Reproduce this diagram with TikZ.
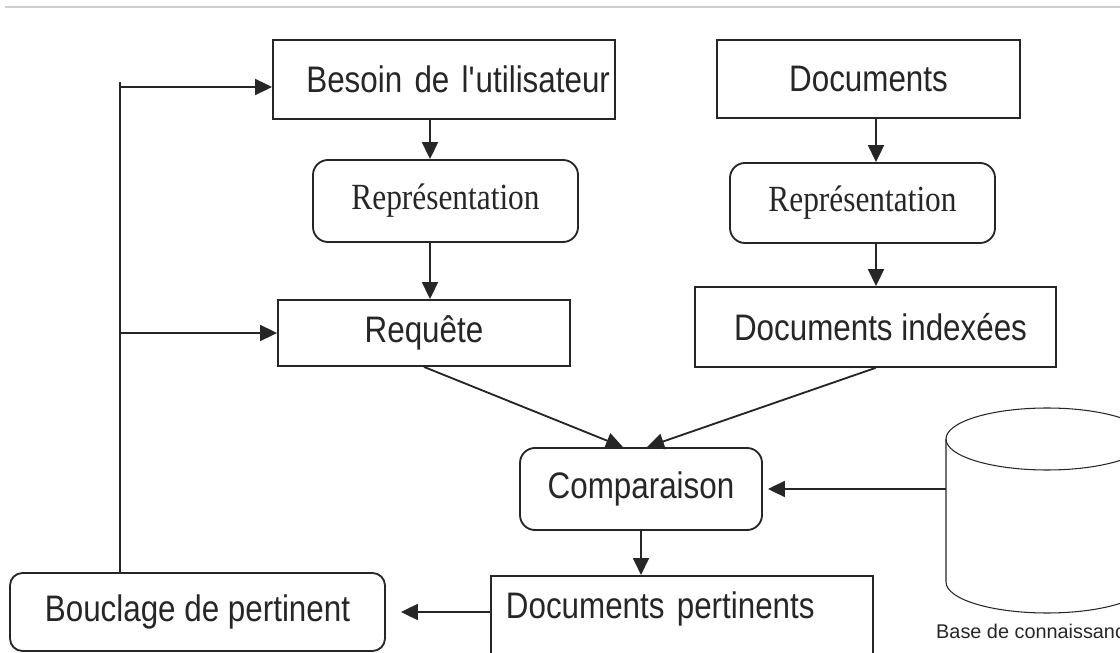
\documentclass[tikz,border=0pt]{standalone}
\usepackage{fontspec}
\setmainfont{Liberation Serif}[FakeStretch=0.85]
\setsansfont{Liberation Sans}[FakeStretch=0.85]
\newfontfamily\smallsans{Liberation Sans}
\usepackage{tikz}
\usetikzlibrary{arrows.meta,positioning,calc}
\usepackage{xcolor}
\definecolor{lineCol}{RGB}{38,38,38}
\definecolor{ruleCol}{RGB}{205,205,205}

\begin{document}
\begin{tikzpicture}[
  every node/.style={font=\sffamily\fontsize{21}{24}\selectfont, text=lineCol},
  plainbox/.style={draw=lineCol, line width=1.05pt, inner sep=0pt, align=center},
  roundbox/.style n args={1}{draw=lineCol, line width=1.05pt, rounded corners=#1,
    inner sep=0pt, align=center},
  repfont/.style={font=\rmfamily\fontsize{21}{24}\selectfont},
  arr/.style={line width=1.05pt, draw=lineCol, -{Triangle[length=0.34cm, width=0.32cm]}},
]
\useasboundingbox (0,0) rectangle (22.4,-13.06);
\clip (0,0) rectangle (22.4,-13.06);
\draw[ruleCol, line width=1.2pt] (0.1,-0.14) -- (22.4,-0.14);
% query side
\node[plainbox, minimum width=6.84cm, minimum height=1.58cm, text width=6.64cm,
  inner xsep=0.1cm, align=right] (besoin) at (8.88,-1.59) {Besoin de l\textquotesingle utilisateur};
\node[roundbox={0.3cm}, repfont, minimum width=5.3cm, minimum height=1.64cm] (repU) at (8.91,-4.02) {Représentation};
\node[plainbox, minimum width=5.84cm, minimum height=1.32cm] (requete) at (8.48,-6.66) {\raisebox{0.1cm}{Requête}};
% document side
\node[plainbox, minimum width=6.06cm, minimum height=1.56cm] (docs) at (17.37,-1.58) {Documents};
\node[roundbox={0.3cm}, repfont, minimum width=5.3cm, minimum height=1.6cm] (repD) at (17.25,-4.06) {Représentation};
\node[plainbox, minimum width=7.22cm, minimum height=1.6cm] (docidx) at (17.51,-6.54) {\hspace{0.2cm}Documents indexées};
% matching and results
\node[roundbox={0.3cm}, minimum width=4.84cm, minimum height=1.64cm] (comp) at (12.82,-9.78) {Comparaison};
\node[plainbox, anchor=north west, text width=7.04cm, inner xsep=0.3cm, align=left,
  text height=0.86cm, text depth=1.64cm] (docpert) at (9.8,-11.5) {Documents pertinents};
\node[roundbox={0.25cm}, minimum width=7.5cm, minimum height=1.56cm] (bouclage) at (3.95,-12.24) {Bouclage de pertinent};
% knowledge base
\draw[lineCol, line width=0.6pt] (18.92,-8.78) -- (18.92,-11.64)
  arc[start angle=180, end angle=360, x radius=2.02cm, y radius=0.62cm] -- (22.96,-8.78);
\draw[lineCol, line width=0.6pt] (20.94,-8.78) ellipse [x radius=2.02cm, y radius=0.62cm];
\node[font=\smallsans\fontsize{11.3}{13}\selectfont, anchor=base west] (baseLbl) at (18.6,-12.76) {Base de connaissances};
\coordinate (baseL) at (18.92,-9.78);
% arrows
\coordinate (lcol) at (8.6,0);
\coordinate (rcol) at (17.52,0);
\draw[arr] (besoin.south -| lcol) -- (repU.north -| lcol);
\draw[arr] (repU.south -| lcol) -- (requete.north -| lcol);
\draw[arr] (docs.south -| rcol) -- (repD.north -| rcol);
\draw[arr] (repD.south -| rcol) -- (docidx.north -| rcol);
\draw[arr] (requete.south) -- ([xshift=-0.36cm]comp.north);
\draw[arr] (docidx.south) -- ([xshift=0.12cm]comp.north);
\draw[arr] (baseL) -- ([xshift=0.1cm]comp.east);
\draw[arr] (comp.south) -- (docpert.north -| comp.south);
\draw[arr] (docpert.west |- bouclage.east) -- ([xshift=0.3cm]bouclage.east);
% feedback loop
\coordinate (loop) at (2.4,-1.74);
\draw[lineCol, line width=1.05pt] (bouclage.north -| loop) -- ([yshift=0.1cm]loop);
\draw[arr] (loop) -- (loop -| besoin.west);
\draw[arr] (loop |- requete.west) -- (requete.west);
\end{tikzpicture}
\end{document}
